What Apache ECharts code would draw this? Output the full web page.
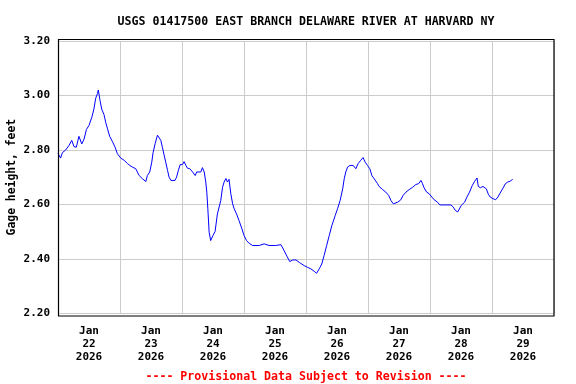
<!DOCTYPE html>
<html>
<head>
<meta charset="utf-8">
<script src="https://cdn.jsdelivr.net/npm/echarts@6/dist/echarts.min.js"></script>
<style>html,body{margin:0;padding:0;background:#fff}#c{width:576px;height:384px}</style>
</head>
<body>
<div id="c"></div>
<script>
// Data (hours since 2026-01-22 00:00, gage height in feet)
const startDate = '2026-01-22T00:00:00';
const endDate = '2026-01-30T00:00:00';
const hours = [0,1.0,1.7,3.0,4.3,5.3,6.2,7.1,8.1,9.2,10.1,11.0,12.0,13.1,13.9,14.6,15.3,15.6,16.3,16.9,17.8,18.5,19.1,20.0,21.1,22.1,23.0,24.3,25.6,26.9,27.8,29.0,30.1,31.4,32.7,34.0,34.6,35.5,36.3,36.8,37.6,38.5,39.1,39.8,40.4,41.1,41.7,42.4,43.0,43.7,45.3,45.9,46.6,47.3,48.2,48.8,49.5,50.1,51.0,52.1,53.1,53.7,55.3,55.9,56.6,57.2,57.6,58.0,58.5,59.1,60.0,60.8,61.1,61.7,62.4,63.0,63.7,64.3,65.0,65.6,66.2,66.9,67.6,68.2,69.1,70.1,71.2,72.0,73.0,74.0,75.3,77.9,79.8,81.7,84.3,86.3,87.2,88.6,89.7,90.9,92.1,93.4,95.3,96.6,97.9,99.2,100.1,101.1,102.1,103.0,104.0,105.0,106.0,107.3,108.2,109.2,110.2,110.8,111.4,112.1,113.0,114.3,115.3,116.2,117.2,118.1,118.9,119.8,120.7,121.5,122.4,123.7,124.3,125.7,126.9,128.0,128.9,129.8,130.5,131.5,132.7,133.6,134.7,135.9,137.3,138.5,139.6,140.5,141.1,141.7,142.7,143.7,144.7,145.6,146.9,147.8,150.1,152.1,153.0,153.8,154.7,155.2,156.1,157.4,158.3,159.3,160.4,161.3,162.2,162.7,163.5,164.5,165.8,166.6,167.3,168.4,169.4,170.3,171.1,172.1,173.2,174.1,175.0,176.0];
const gageHeight = [2.787,2.77,2.79,2.80,2.817,2.835,2.812,2.81,2.85,2.822,2.84,2.875,2.89,2.92,2.95,2.99,3.007,3.02,2.98,2.95,2.93,2.90,2.88,2.85,2.83,2.81,2.786,2.77,2.762,2.75,2.743,2.736,2.731,2.706,2.694,2.684,2.706,2.719,2.755,2.79,2.823,2.854,2.858,2.835,2.81,2.78,2.755,2.725,2.70,2.688,2.688,2.70,2.725,2.746,2.746,2.757,2.743,2.733,2.731,2.719,2.706,2.719,2.719,2.735,2.719,2.682,2.645,2.584,2.498,2.467,2.486,2.50,2.498,2.565,2.571,2.614,2.663,2.682,2.695,2.682,2.692,2.639,2.602,2.584,2.565,2.54,2.51,2.486,2.467,2.457,2.449,2.449,2.455,2.449,2.449,2.452,2.436,2.41,2.39,2.396,2.396,2.387,2.375,2.369,2.363,2.354,2.347,2.363,2.381,2.412,2.449,2.486,2.522,2.559,2.584,2.614,2.657,2.694,2.719,2.737,2.743,2.743,2.731,2.75,2.762,2.772,2.755,2.743,2.731,2.706,2.694,2.676,2.666,2.654,2.645,2.633,2.614,2.602,2.60,2.608,2.617,2.633,2.645,2.654,2.663,2.673,2.676,2.688,2.676,2.661,2.645,2.639,2.627,2.617,2.608,2.598,2.598,2.598,2.59,2.578,2.572,2.578,2.596,2.608,2.627,2.645,2.67,2.685,2.697,2.666,2.661,2.666,2.657,2.637,2.627,2.621,2.617,2.627,2.641,2.657,2.676,2.682,2.685,2.692];
const dayLabels = ['22','23','24','25','26','27','28','29'];
const monthLabel = 'Jan';
const yearLabel = '2026';
const yTicks = [2.2, 3.2, 0.2]; // min, max, step
const titleText = 'USGS 01417500 EAST BRANCH DELAWARE RIVER AT HARVARD NY';
const footText = '---- Provisional Data Subject to Revision ----';
const yName = 'Gage height, feet';

const FONT = '"DejaVu Sans Mono", monospace';
const t0 = new Date(startDate).getTime();
const seriesData = hours.map((h, i) => [t0 + h * 3600000, gageHeight[i]]);
const catLabels = dayLabels.map(d => monthLabel + '\n' + d + '\n' + yearLabel);

const chart = echarts.init(document.getElementById('c'), null, {renderer: 'canvas'});
chart.setOption({
  animation: false,
  backgroundColor: '#ffffff',
  title: [
    {text: titleText, left: 301, top: 11, textAlign: 'center',
     textStyle: {fontFamily: FONT, fontWeight: 'bold', fontSize: 11.6, color: '#000'}},
    {text: footText, left: 301, top: 366, textAlign: 'center',
     textStyle: {fontFamily: FONT, fontWeight: 'bold', fontSize: 11.6, color: '#ff0000'}}
  ],
  grid: {left: 58, right: 22, top: 41, bottom: 70.7, containLabel: false, outerBoundsMode: 'none'},
  xAxis: [
    {type: 'time', min: t0, max: new Date(endDate).getTime(), show: false},
    {type: 'category', data: catLabels, boundaryGap: true, position: 'bottom',
     axisLine: {show: false}, axisTick: {show: false},
     splitLine: {show: true, lineStyle: {color: '#cccccc', width: 1}},
     axisLabel: {margin: 11, fontFamily: FONT, fontWeight: 'bold', fontSize: 11, color: '#000', lineHeight: 13}}
  ],
  yAxis: {
    type: 'value', min: yTicks[0], max: yTicks[1], interval: yTicks[2],
    name: yName, nameLocation: 'middle', nameGap: 40, nameMoveOverlap: false,
    nameTextStyle: {fontFamily: FONT, fontWeight: 'bold', fontSize: 11.4, color: '#000'},
    axisLine: {show: false}, axisTick: {show: false},
    splitLine: {show: true, lineStyle: {color: '#cccccc', width: 1}},
    axisLabel: {margin: 8, fontFamily: FONT, fontWeight: 'bold', fontSize: 11, color: '#000',
      formatter: v => v.toFixed(2)}
  },
  graphic: [{type: 'rect', z: 100, silent: true,
    shape: {x: 58.5, y: 39.5, width: 495.5, height: 276.5},
    style: {fill: 'none', stroke: '#000', lineWidth: 1.2}}],
  series: [{type: 'line', xAxisIndex: 0, data: seriesData, showSymbol: false,
    lineStyle: {color: '#0000ff', width: 1}, itemStyle: {color: '#0000ff'}}]
});
</script>
</body>
</html>
